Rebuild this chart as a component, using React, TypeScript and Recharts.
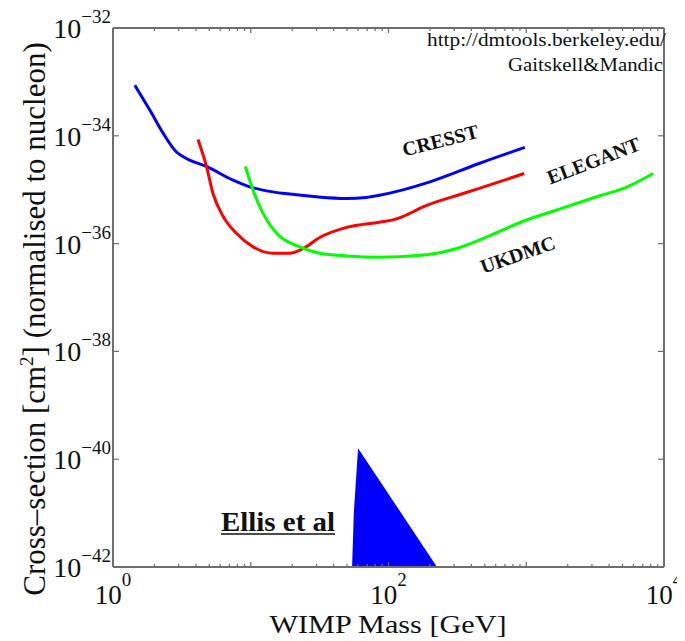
import React from 'react';
import { ComposedChart, Line, Area, XAxis, YAxis } from 'recharts';

// WIMP mass [GeV] and cross-section [cm^2]
const cresstMass = [1.44, 1.85, 2.31, 2.89, 3.41, 4.77, 7.44, 9.84, 13, 19.2, 30, 49.6, 69, 86, 200, 460, 977];
const cresstSigma = [8.7e-34, 3.0e-34, 1.12e-34, 5.0e-35, 3.8e-35, 2.7e-35, 1.5e-35, 1.13e-35, 9.5e-36, 8.3e-36, 7.4e-36, 6.9e-36, 7.2e-36, 7.9e-36, 1.4e-35, 3.1e-35, 6.1e-35];

const elegantMass = [4.14, 4.77, 5.32, 6.3, 7.87, 10.4, 14.5, 19.2, 24, 31.7, 49.6, 86, 108, 128, 178, 348, 643, 966];
const elegantSigma = [8.5e-35, 2.7e-35, 8.5e-36, 3.2e-36, 1.55e-36, 8.7e-37, 6.6e-37, 6.6e-37, 8.1e-37, 1.3e-36, 2.0e-36, 2.5e-36, 2.75e-36, 3.2e-36, 4.8e-36, 8.5e-36, 1.41e-35, 2.0e-35];

const ukdmcMass = [9.15, 10.4, 12.3, 15.4, 22.7, 31.7, 49.6, 86, 189, 312, 544, 949, 1660, 3240, 5350, 8350];
const ukdmcSigma = [2.7e-35, 9.8e-36, 3.6e-36, 1.55e-36, 8.7e-37, 6.6e-37, 5.9e-37, 5.6e-37, 6.2e-37, 8.1e-37, 1.4e-36, 2.6e-36, 4.2e-36, 7.4e-36, 1.12e-35, 2.0e-35];

const ellisMass = [54.4, 56, 60.1, 225];
const ellisSigma = [1e-42, 1e-41, 1.6e-40, 1e-42];

const xTicks = [1, 2, 3, 4, 5, 6, 7, 8, 9, 10, 20, 30, 40, 50, 60, 70, 80, 90, 100, 200, 300, 400, 500, 600, 700, 800, 900, 1000, 2000, 3000, 4000, 5000, 6000, 7000, 8000, 9000, 10000];
const xLabelled = [1, 100, 10000];
const yTicks = [1e-42, 1e-40, 1e-38, 1e-36, 1e-34, 1e-32];

const toData = (xs: number[], ys: number[]) => xs.map((x, i) => ({ x, y: ys[i] }));
const cresst = toData(cresstMass, cresstSigma);
const elegant = toData(elegantMass, elegantSigma);
const ukdmc = toData(ukdmcMass, ukdmcSigma);
const ellis = toData(ellisMass, ellisSigma);

const W = 677;
const H = 641;
const FRAME = '#6e6e6e';
const FONT = '"Liberation Serif", "Times New Roman", serif';
const serif = { fontFamily: FONT };

const exp10 = (v: number) => Math.round(Math.log10(v));
const isMajor = (v: number) => Math.abs(Math.log10(v) - exp10(v)) < 1e-9;
const fmtExp = (e: number) => (e < 0 ? '\u2212' + Math.abs(e) : String(e));

function XTick(props: any) {
  const { x, y, payload, top } = props;
  const v = payload.value;
  const len = isMajor(v) ? 5 : 3;
  const showLabel = !top && xLabelled.some((t) => Math.abs(t - v) < 1e-9);
  return (
    <g>
      <line x1={x} x2={x} y1={y} y2={top ? y + len : y - len} stroke={FRAME} strokeWidth={1.2} />
      {showLabel && (
        <text x={x} y={y + 37} textAnchor="middle" style={serif} fontSize={27} fill="#111">
          10
          <tspan dy={-18} fontSize={19}>{fmtExp(exp10(v))}</tspan>
        </text>
      )}
    </g>
  );
}

function YTick(props: any) {
  const { x, y, payload, right } = props;
  const v = payload.value;
  return (
    <g>
      <line x1={x} x2={right ? x - 6 : x + 6} y1={y} y2={y} stroke={FRAME} strokeWidth={1.2} />
      {!right && (
        <text x={x - 2} y={y + 10} textAnchor="end" style={serif} fontSize={28} fill="#111">
          10
          <tspan dy={-15} fontSize={19}>{fmtExp(exp10(v))}</tspan>
        </text>
      )}
    </g>
  );
}

export default function App() {
  const axisLine = { stroke: FRAME, strokeWidth: 2 };
  return (
    <div style={{ position: 'relative', top: -8, width: W, height: H }}>
      <ComposedChart width={W} height={H} margin={{ top: 27, right: 20, bottom: 73, left: 104 }}>
        <XAxis
          xAxisId="b"
          orientation="bottom"
          type="number"
          dataKey="x"
          scale="log"
          domain={[1, 10000]}
          allowDataOverflow
          ticks={xTicks}
          interval={0}
          height={1}
          tickSize={0}
          tickMargin={0}
          tickLine={false}
          axisLine={axisLine}
          tick={(p: any) => <XTick {...p} />}
        />
        <XAxis
          xAxisId="t"
          orientation="top"
          type="number"
          dataKey="x"
          scale="log"
          domain={[1, 10000]}
          allowDataOverflow
          ticks={xTicks}
          interval={0}
          height={1}
          tickSize={0}
          tickMargin={0}
          tickLine={false}
          axisLine={axisLine}
          tick={(p: any) => <XTick {...p} top />}
        />
        <YAxis
          yAxisId="l"
          orientation="left"
          type="number"
          scale="log"
          domain={[1e-42, 1e-32]}
          allowDataOverflow
          ticks={yTicks}
          interval={0}
          width={1}
          tickSize={0}
          tickMargin={0}
          tickLine={false}
          axisLine={axisLine}
          tick={(p: any) => <YTick {...p} />}
        />
        <YAxis
          yAxisId="r"
          orientation="right"
          type="number"
          scale="log"
          domain={[1e-42, 1e-32]}
          allowDataOverflow
          ticks={yTicks}
          interval={0}
          width={1}
          tickSize={0}
          tickMargin={0}
          tickLine={false}
          axisLine={axisLine}
          tick={(p: any) => <YTick {...p} right />}
        />
        <Area
          xAxisId="b"
          yAxisId="l"
          data={ellis}
          dataKey="y"
          type="linear"
          baseValue={1e-42}
          fill="#0000ff"
          fillOpacity={1}
          stroke="none"
          isAnimationActive={false}
        />
        <Line xAxisId="b" yAxisId="l" data={cresst} dataKey="y" type="monotone" stroke="#0000ff" strokeWidth={3} dot={false} isAnimationActive={false} />
        <Line xAxisId="b" yAxisId="l" data={elegant} dataKey="y" type="monotone" stroke="#ff0000" strokeWidth={3} dot={false} isAnimationActive={false} />
        <Line xAxisId="b" yAxisId="l" data={ukdmc} dataKey="y" type="monotone" stroke="#00ff00" strokeWidth={3} dot={false} isAnimationActive={false} />
      </ComposedChart>
      <svg
        width={W}
        height={H}
        style={{ position: 'absolute', left: 0, top: 0, pointerEvents: 'none', fontFamily: FONT }}
      >
        <text x={658} y={46} textAnchor="end" style={serif} fontSize={19} fill="#111" textLength={239} lengthAdjust="spacingAndGlyphs">
          http://dmtools.berkeley.edu/
        </text>
        <text x={655} y={71} textAnchor="end" style={serif} fontSize={19} fill="#111" textLength={155} lengthAdjust="spacingAndGlyphs">
          Gaitskell&amp;Mandic
        </text>
        <text transform="translate(434,147) rotate(-14)" textAnchor="middle" style={serif} fontSize={20} fontWeight="bold" fill="#111">
          CRESST
        </text>
        <text transform="translate(588,167) rotate(-21)" textAnchor="middle" style={serif} fontSize={20} fontWeight="bold" fill="#111">
          ELEGANT
        </text>
        <text transform="translate(512,261) rotate(-19)" textAnchor="middle" style={serif} fontSize={20} fontWeight="bold" fill="#111">
          UKDMC
        </text>
        <text x={213} y={531} style={serif} fontSize={28} fontWeight="bold" fill="#111" textLength={114} lengthAdjust="spacingAndGlyphs">
          Ellis et al
        </text>
        <line x1={213} x2={327} y1={534} y2={534} stroke="#111" strokeWidth={1.5} />
        <text x={380} y={633} textAnchor="middle" style={serif} fontSize={26} fill="#111" textLength={237} lengthAdjust="spacingAndGlyphs">
          WIMP Mass [GeV]
        </text>
        <text transform="translate(37,319) rotate(-90)" textAnchor="middle" style={serif} fontSize={31} fill="#111">
          Cross–section [cm
          <tspan dy={-12} fontSize={19}>2</tspan>
          <tspan dy={12}>] (normalised to nucleon)</tspan>
        </text>
      </svg>
    </div>
  );
}
